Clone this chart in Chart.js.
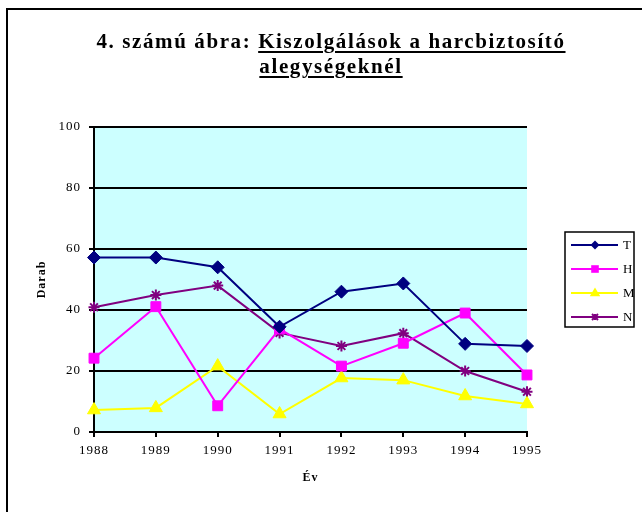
<!DOCTYPE html>
<html>
<head>
<meta charset="utf-8">
<script src="https://cdn.jsdelivr.net/npm/chart.js@4/dist/chart.umd.min.js"></script>
<style>
  body { margin: 0; background: #fff; }
  #wrap { position: relative; width: 642px; height: 512px; overflow: hidden; background: #fff; }
  #frame { position: absolute; left: 6px; top: 8px; width: 700px; height: 600px;
           border-top: 2px solid #000; border-left: 2px solid #000; }
  #title { position: absolute; left: 0; top: 29px; width: 662px; text-align: center;
           font: bold 21px 'Liberation Serif', 'Times New Roman', serif; letter-spacing: 1.6px;
           line-height: 25px; color: #000; }
  #title u { text-decoration-thickness: 2px; text-underline-offset: 3px; }
  #c { position: absolute; left: 0; top: 0; }
</style>
</head>
<body>
<div id="wrap">
  <div id="frame"></div>
  <canvas id="c" width="642" height="512"></canvas>
  <div id="title">4. számú ábra: <u>Kiszolgálások a harcbiztosító<br>alegységeknél</u></div>
</div>
<script>
const years = ['1988', '1989', '1990', '1991', '1992', '1993', '1994', '1995'];
const seriesT = [57.2, 57.2, 54, 34.5, 46, 48.7, 28.9, 28.2];
const seriesH = [24.2, 41.1, 8.6, 33.8, 21.6, 29.1, 39, 18.7];
const seriesM = [7.2, 7.9, 21.6, 5.9, 17.7, 17, 11.8, 9.2];
const seriesN = [40.9, 44.9, 48, 32.5, 28.2, 32.4, 20, 13.2];
const seriesNames = ['T', 'H', 'M', 'N'];
const yTicks = [0, 20, 40, 60, 80, 100];

const serif = "'Liberation Serif', 'Times New Roman', serif";

const spacingPlugin = {
  id: 'spacing',
  beforeUpdate(chart) { chart.ctx.letterSpacing = '1px'; },
  beforeDraw(chart) { chart.ctx.letterSpacing = '1px'; }
};

const bgPlugin = {
  id: 'plotBg',
  beforeDraw(chart) {
    const { ctx, chartArea: a } = chart;
    ctx.save();
    ctx.fillStyle = '#CCFFFF';
    ctx.fillRect(a.left, a.top, a.right - a.left, a.bottom - a.top);
    ctx.restore();
  }
};

function drawMarker(ctx, style, x, y, r, color) {
  ctx.save();
  ctx.fillStyle = color;
  ctx.strokeStyle = color;
  ctx.lineWidth = 2;
  ctx.beginPath();
  if (style === 'rectRot') {
    ctx.moveTo(x, y - r); ctx.lineTo(x + r, y); ctx.lineTo(x, y + r); ctx.lineTo(x - r, y); ctx.closePath(); ctx.fill();
  } else if (style === 'rect') {
    ctx.rect(x - r, y - r, 2 * r, 2 * r); ctx.fill();
  } else if (style === 'triangle') {
    ctx.moveTo(x, y - r); ctx.lineTo(x + r * 0.95, y + r * 0.6); ctx.lineTo(x - r * 0.95, y + r * 0.6); ctx.closePath(); ctx.fill();
  } else {
    ctx.moveTo(x - r, y - r); ctx.lineTo(x + r, y + r);
    ctx.moveTo(x + r, y - r); ctx.lineTo(x - r, y + r);
    ctx.moveTo(x, y - r); ctx.lineTo(x, y + r);
    ctx.stroke();
  }
  ctx.restore();
}

const legendPlugin = {
  id: 'boxLegend',
  afterDraw(chart) {
    const ctx = chart.ctx;
    const bx = 565, by = 232, bw = 69, bh = 95;
    ctx.save();
    ctx.strokeStyle = '#000';
    ctx.lineWidth = 1.5;
    ctx.strokeRect(bx, by, bw, bh);
    const sizes = [4.5, 3.8, 5.5, 3];
    chart.data.datasets.forEach((ds, i) => {
      const y = 245 + i * 24;
      ctx.strokeStyle = ds.borderColor;
      ctx.lineWidth = 2;
      ctx.beginPath();
      ctx.moveTo(571, y); ctx.lineTo(618, y); ctx.stroke();
      drawMarker(ctx, ds.pointStyle, 595, y, sizes[i], ds.borderColor);
      ctx.fillStyle = '#000';
      ctx.font = '13px ' + serif;
      ctx.textBaseline = 'middle';
      ctx.textAlign = 'left';
      ctx.fillText(ds.label, 623, y + 1);
    });
    ctx.restore();
  }
};

new Chart(document.getElementById('c'), {
  type: 'line',
  data: {
    labels: years,
    datasets: [
      { label: seriesNames[0], data: seriesT, borderColor: '#000080', backgroundColor: '#000080',
        pointStyle: 'rectRot', pointRadius: 6.5, borderWidth: 2, pointBorderWidth: 1 },
      { label: seriesNames[1], data: seriesH, borderColor: '#FF00FF', backgroundColor: '#FF00FF',
        pointStyle: 'rect', pointRadius: 7, borderWidth: 2, pointBorderWidth: 1 },
      { label: seriesNames[2], data: seriesM, borderColor: '#FFFF00', backgroundColor: '#FFFF00',
        pointStyle: 'triangle', pointRadius: 7.5, borderWidth: 2, pointBorderWidth: 1 },
      { label: seriesNames[3], data: seriesN, borderColor: '#800080', backgroundColor: '#800080',
        pointStyle: 'star', pointRadius: 5.5, borderWidth: 2, pointBorderWidth: 2 }
    ]
  },
  options: {
    responsive: false,
    animation: false,
    devicePixelRatio: 1,
    layout: { padding: { left: 0, top: 127, right: 115, bottom: 0 } },
    plugins: {
      legend: { display: false },
      tooltip: { enabled: false },
      title: { display: false }
    },
    elements: { line: { tension: 0 } },
    scales: {
      x: {
        type: 'category',
        offset: false,
        afterFit(s) { s.height = 80; },
        grid: { display: true, drawOnChartArea: false, drawTicks: true, tickLength: 5, color: '#000', lineWidth: 2, offset: false },
        border: { display: true, color: '#000', width: 2 },
        ticks: { color: '#000', font: { family: serif, size: 13 }, padding: 6, maxRotation: 0, autoSkip: false },
        title: { display: true, text: 'Év', color: '#000', font: { family: serif, size: 12, weight: 'bold' }, padding: { top: 0, bottom: 27 } }
      },
      y: {
        min: 0, max: 100,
        afterFit(s) { s.width = 94; },
        afterBuildTicks(s) { s.ticks = yTicks.map(v => ({ value: v })); },
        grid: { color: '#000', lineWidth: 2, tickLength: 5, drawTicks: true },
        border: { display: true, color: '#000', width: 2 },
        ticks: { color: '#000', font: { family: serif, size: 13 }, padding: 8 },
        title: { display: true, text: 'Darab', color: '#000', font: { family: serif, size: 12, weight: 'bold' }, padding: { top: 35, bottom: 0 } }
      }
    }
  },
  plugins: [spacingPlugin, bgPlugin, legendPlugin]
});
</script>
</body>
</html>
